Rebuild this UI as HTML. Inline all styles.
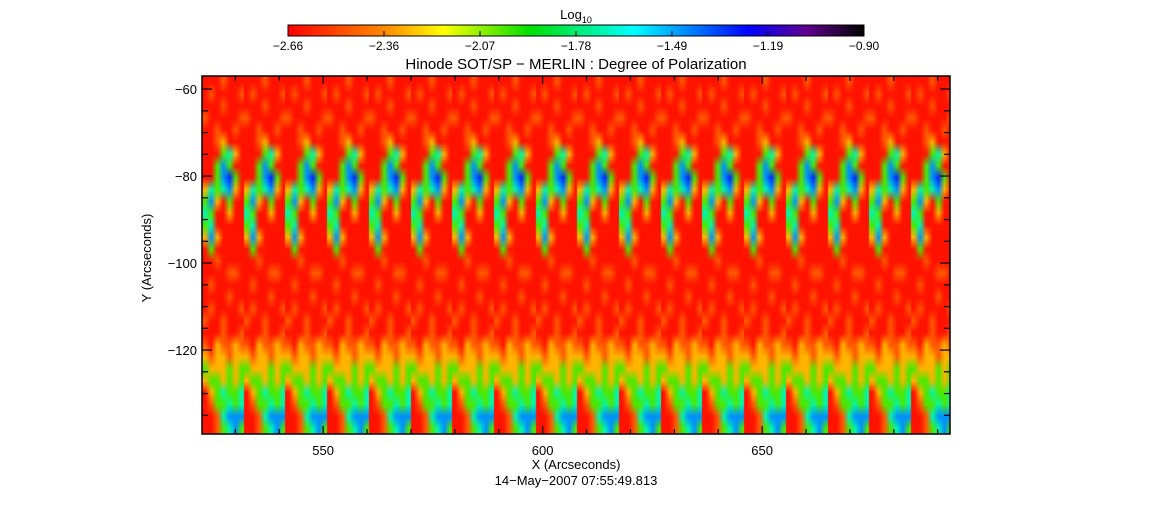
<!DOCTYPE html>
<html><head><meta charset="utf-8">
<style>
body{margin:0;background:#fff;width:1152px;height:512px;overflow:hidden;font-family:"Liberation Sans",sans-serif;}
#wrap{position:relative;width:1152px;height:512px;}
</style></head>
<body><div id="wrap">
<svg id="svg" width="1152" height="512" style="position:absolute;left:0;top:0">
<defs><linearGradient id="cb" x1="0" x2="1" y1="0" y2="0">
<stop offset="0" stop-color="#ff0000"/><stop offset="0.17" stop-color="#ff8c00"/>
<stop offset="0.27" stop-color="#ffff00"/><stop offset="0.42" stop-color="#00e000"/>
<stop offset="0.6" stop-color="#00ffff"/><stop offset="0.7" stop-color="#0080ff"/>
<stop offset="0.8" stop-color="#0000ff"/><stop offset="0.9" stop-color="#600090"/>
<stop offset="1" stop-color="#000000"/></linearGradient></defs>
<text x="576" y="19" text-anchor="middle" font-size="13">Log<tspan font-size="9" dy="4">10</tspan></text>
<rect x="288" y="25" width="576" height="11" fill="url(#cb)" stroke="#000" stroke-width="1"/>
<g id="cbt"></g>
<text x="576" y="69" text-anchor="middle" font-size="15">Hinode SOT/SP − MERLIN : Degree of Polarization</text>
<foreignObject x="202" y="76" width="748" height="358"><canvas xmlns="http://www.w3.org/1999/xhtml" id="cv" width="748" height="358"></canvas></foreignObject>
<rect x="202" y="76" width="748" height="358" fill="none" stroke="#000" stroke-width="1.5"/>
<g id="ax"></g>
<text x="576" y="469" text-anchor="middle" font-size="13">X (Arcseconds)</text>
<text x="576" y="485" text-anchor="middle" font-size="13">14−May−2007 07:55:49.813</text>
<text x="151" y="258" text-anchor="middle" font-size="13" transform="rotate(-90 151 258)">Y (Arcseconds)</text>
</svg></div>
<script>
const cbLabels=["-2.66","-2.36","-2.07","-1.78","-1.49","-1.19","-0.90"];
const xTicks=[530,540,550,560,570,580,590,600,610,620,630,640,650,660,670,680,690];
const xLabels=[550,600,650];
const yTicks=[-60,-65,-70,-75,-80,-85,-90,-95,-100,-105,-110,-115,-120,-125,-130,-135];
const yLabels=[-60,-80,-100,-120];
const levelKeys=["r","o","y","g","c","b","d"];
const levelVals=[-2.62,-2.47,-2.3,-2.0,-1.7,-1.45,-1.3];
const tilePattern=["rrrorrr","rorrrro","rrrorrr","orrrrro","rrorror","rroyrrr","rrrgcyr","rrgbgrr","rrgbdgr","ycgcbyr","gbyrgrr","cgrryrr","gcrrrrr","ybyrrrr","rgrrrrr","rrorrrr","rrrroor","rorrrrr","rrrrorr","rorrrro","orrorrr","rrrorro","oryooyo","yoyyoyy","gyyygyg","yggygyg","rygcggc","roggcgc","rrocbbb","rrogcbg"];
const tileCount=18;
const tileWidthArcsec=9.5;
const X0=522.4,X1=692.8,Y0=-57.0,Y1=-139.3,PL=202,PR=950,PT=76,PB=434;
const sx=v=>PL+(v-X0)/(X1-X0)*(PR-PL);
const sy=v=>PT+(v-Y0)/(Y1-Y0)*(PB-PT);
const NS="http://www.w3.org/2000/svg";
function el(t,a,p){const e=document.createElementNS(NS,t);for(const k in a)e.setAttribute(k,a[k]);p.appendChild(e);return e;}
const ax=document.getElementById('ax');
xTicks.forEach(v=>{const x=sx(v),L=xLabels.includes(v)?8:5;
 const t=el('line',{x1:x,x2:x,y1:PB,y2:PB-L,stroke:'#000','stroke-width':1.2},ax);
 
 
 const t2=el('line',{x1:x,x2:x,y1:PT,y2:PT+L,stroke:'#000','stroke-width':1.2},ax);
 
 });
xLabels.forEach(v=>{const t=el('text',{x:sx(v),y:455,'text-anchor':'middle','font-size':13},ax);t.textContent=v;
 
 });
yTicks.forEach(v=>{const y=sy(v),L=yLabels.includes(v)?10:6;
 const t=el('line',{x1:PL,x2:PL+L,y1:y,y2:y,stroke:'#000','stroke-width':1.2},ax);
 
 
 const t2=el('line',{x1:PR,x2:PR-L,y1:y,y2:y,stroke:'#000','stroke-width':1.2},ax);
 
 });
yLabels.forEach(v=>{const t=el('text',{x:197,y:sy(v)+5,'text-anchor':'end','font-size':13},ax);t.textContent="−"+Math.abs(v);
 
 });
const cbt=document.getElementById('cbt');
cbLabels.forEach((s,i)=>{const x=288+i*96;const t=el('text',{x:x,y:50,'text-anchor':'middle','font-size':12},cbt);t.textContent=s.replace('-','−');
 
 
 const l=el('line',{x1:x,x2:x,y1:31,y2:36,stroke:'#000'},cbt);
 
 });
const stops=[[0,255,0,0],[0.17,255,140,0],[0.27,255,255,0],[0.42,0,224,0],[0.6,0,255,255],[0.7,0,128,255],[0.8,0,0,255],[0.9,96,0,144],[1,0,0,0]];
function cmap(v){let f=(v+2.66)/(1.76);f=Math.max(0,Math.min(1,f));
 for(let i=1;i<stops.length;i++){if(f<=stops[i][0]){const a=stops[i-1],b=stops[i],t=(f-a[0])/(b[0]-a[0]);
  return [a[1]+(b[1]-a[1])*t,a[2]+(b[2]-a[2])*t,a[3]+(b[3]-a[3])*t];}}return [0,0,0];}
const cols=tilePattern[0].length,rows=tilePattern.length;
const cv=document.getElementById('cv'),ctx=cv.getContext('2d');
ctx.fillStyle='#ff2000';ctx.fillRect(0,0,748,358);
for(let t=0;t<tileCount;t++){
 const tx0=X0+t*tileWidthArcsec;
 const px0=sx(tx0)-PL,pw=sx(tx0+tileWidthArcsec)-sx(tx0);
 const off=document.createElement('canvas');off.width=cols;off.height=rows;
 const o=off.getContext('2d'),img=o.createImageData(cols,rows);
 for(let r=0;r<rows;r++)for(let c=0;c<cols;c++){
  const v=levelVals[levelKeys.indexOf(tilePattern[r][c])];const rgb=cmap(v);const k=(r*cols+c)*4;
  img.data[k]=rgb[0];img.data[k+1]=rgb[1];img.data[k+2]=rgb[2];img.data[k+3]=255;}
 o.putImageData(img,0,0);
 ctx.imageSmoothingEnabled=true;
 ctx.drawImage(off,px0,0,pw+1,358);
}
</script>
</body></html>
